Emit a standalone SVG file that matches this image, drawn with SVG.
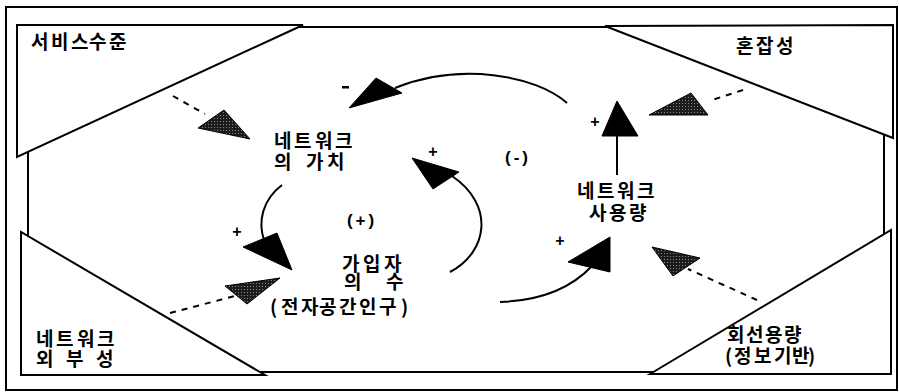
<svg xmlns="http://www.w3.org/2000/svg" width="899" height="392" viewBox="0 0 899 392">
<style>
.frame{fill:none;stroke:#000;stroke-width:2}
.box{fill:#fff;stroke:#000;stroke-width:2;stroke-linejoin:miter}
.flow{fill:none;stroke:#000;stroke-width:2}
.head{fill:#000;stroke:#000;stroke-width:1}
.ext{fill:none;stroke:#000;stroke-width:2;stroke-dasharray:6 6}
.shade{fill:url(#stipple);stroke:#000;stroke-width:1}
.lbl{font-family:"Noto Sans CJK KR","Noto Sans",sans-serif;font-weight:bold;font-size:19px;fill:#000}
.sign{font-family:"Liberation Sans",sans-serif;font-weight:bold;font-size:16px;text-anchor:middle;fill:#000}
.loop{font-family:"Liberation Sans",sans-serif;font-weight:bold;font-size:17px;text-anchor:middle;fill:#000;letter-spacing:3px}
</style>
<defs>
<pattern id="stipple" width="3" height="3" patternUnits="userSpaceOnUse">
<rect width="3" height="3" fill="#1c1c1c"/>
<rect x="1" y="1" width="1" height="1" fill="#8a8a8a"/>
</pattern>
</defs>
<rect width="899" height="392" fill="#fff"/>
<rect class="frame" x="6" y="7" width="891" height="383"/>
<rect class="frame" x="28" y="27" width="856" height="345"/>

<g id="service-level">
<polygon class="box" points="17,25 303,25 17,157"/>
<text class="lbl" x="31 51 71 89 109" y="49">서비스수준</text>
</g>
<g id="congestion">
<polygon class="box" points="605,26 893,25 893,138"/>
<text class="lbl" x="736 756 776" y="53">혼잡성</text>
</g>
<g id="network-externality">
<polygon class="box" points="21,232 21,375 265,375"/>
<text class="lbl"><tspan x="36 56 77 97" y="346">네트워크</tspan><tspan x="36 66 96" y="366">외부성</tspan></text>
</g>
<g id="line-capacity">
<polygon class="box" points="650,374 891,230 891,374"/>
<text class="lbl"><tspan x="727 746 765 784" y="342">회선용량</tspan><tspan x="725 734 754 774 792 808" y="363">(정보기반)</tspan></text>
</g>
<g id="network-value">
<text class="lbl"><tspan x="274 294 315 335" y="148">네트워크</tspan><tspan x="274 306 327" y="169">의가치</tspan></text>
</g>
<g id="subscribers">
<text class="lbl"><tspan x="342 363 384" y="271">가입자</tspan><tspan x="344 386" y="289">의수</tspan><tspan x="270 281 301 319 339 359 379 401" y="314">(전자공간인구)</tspan></text>
</g>
<g id="network-usage">
<text class="lbl"><tspan x="577 597 617 637" y="198">네트워크</tspan><tspan x="589 609 629" y="220">사용량</tspan></text>
</g>
<g id="loop-labels">
<text class="loop" x="362" y="226">(+)</text>
<text class="loop" x="518" y="163">(-)</text>
</g>

<g id="connectors">
<path class="flow" d="M567,103 C535,75 460,62 395,88"/>
<polygon class="head" points="349,108 376,78 402,93"/>
<path class="flow" d="M450,272 C488,252 495,205 452,176"/>
<polygon class="head" points="412,158 459,172 433,189"/>
<path class="flow" d="M282,185 C262,200 258,222 264,240"/>
<polygon class="head" points="243,247 277,233 292,270"/>
<path class="flow" d="M500,302 Q560,300 592,266"/>
<polygon class="head" points="568,262 610,237 610,272"/>
<line class="flow" x1="617" y1="175" x2="617" y2="134"/>
<polygon class="head" points="617,101 602,136 638,136"/>

<line class="ext" x1="173" y1="96" x2="205" y2="114"/>
<polygon class="shade" points="198,128 224,110 250,139"/>
<line class="ext" x1="743" y1="90" x2="709" y2="101"/>
<polygon class="shade" points="649,115 691,93 708,115"/>
<line class="ext" x1="170" y1="313" x2="235" y2="296"/>
<polygon class="shade" points="225,286 280,278 247,304"/>
<line class="ext" x1="757" y1="300" x2="688" y2="269"/>
<polygon class="shade" points="652,247 700,258 673,276"/>

<rect x="342" y="86" width="7" height="2.5"/>
<text class="sign" x="433" y="157">+</text>
<text class="sign" x="595" y="127">+</text>
<text class="sign" x="560" y="246">+</text>
<text class="sign" x="237" y="237">+</text>
</g>
</svg>
